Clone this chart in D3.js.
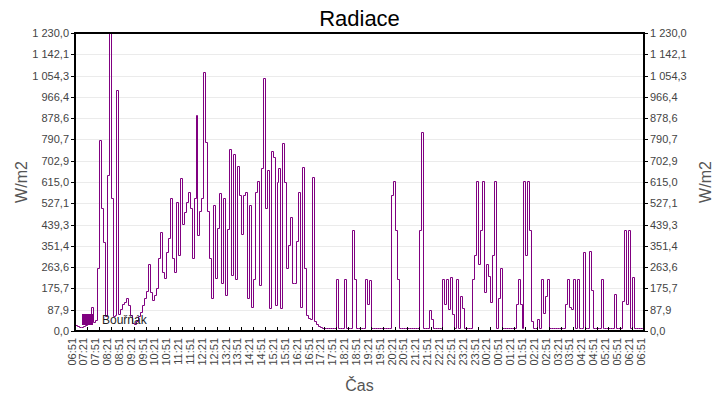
<!DOCTYPE html>
<html>
<head>
<meta charset="utf-8">
<script src="https://cdn.jsdelivr.net/npm/d3@7"></script>
<style>
  body { margin: 0; background: #fff; }
  text { font-family: "Liberation Sans", Arial, sans-serif; }
</style>
</head>
<body>
<div id="chart"></div>
<script>
// one sample every 5 minutes, starting 06:51
const stepMinutes = 5;
const seriesName = "Bouřňák";

// W/m2, one row = one hour (12 samples)
const radiace = [
  25, 20, 18, 18, 22, 25, 28, 30, 100, 38, 45, 261,          // 06:51
  788, 506, 369, 60, 644, 1230, 548, 60, 65, 995, 70, 90,    // 07:51
  110, 121, 138, 107, 66, 35, 28, 40, 60, 80, 107, 135,      // 08:51
  165, 275, 160, 128, 150, 176, 300, 410, 245, 217, 327, 383,// 09:51
  548, 300, 245, 534, 314, 630, 440, 490, 534, 575, 506, 300,// 10:51
  548, 891, 397, 495, 548, 1071, 782, 495, 300, 135, 520, 217,// 11:51
  424, 568, 200, 548, 150, 420, 751, 230, 729, 215, 682, 561,// 12:51
  400, 561, 575, 135, 520, 100, 215, 575, 619, 190, 671, 1043,// 13:51
  506, 665, 94, 743, 718, 107, 616, 671, 94, 775, 616, 259,  // 14:51
  355, 472, 197, 197, 370, 575, 100, 678, 259, 66, 55, 48,   // 15:51
  637, 40, 28, 20, 16, 14, 14, 14, 14, 14, 14, 14,           // 16:51
  215, 12, 12, 12, 215, 12, 12, 12, 417, 215, 12, 12,        // 17:51
  12, 12, 12, 215, 110, 211, 12, 12, 12, 12, 12, 12,         // 18:51
  12, 12, 12, 12, 561, 619, 417, 215, 12, 12, 12, 12,        // 19:51
  12, 12, 12, 12, 12, 12, 417, 820, 12, 12, 12, 87,          // 20:51
  50, 12, 12, 12, 12, 12, 215, 110, 215, 90, 223, 69,        // 21:51
  12, 215, 12, 144, 94, 12, 12, 12, 12, 215, 314, 619,       // 22:51
  277, 417, 619, 162, 277, 228, 121, 314, 619, 12, 135, 259, // 23:51
  12, 12, 12, 12, 12, 12, 12, 110, 215, 110, 12, 619,        // 00:51
  314, 619, 417, 40, 12, 12, 50, 12, 215, 75, 144, 215,      // 01:51
  12, 12, 12, 12, 12, 12, 12, 12, 110, 215, 100, 90,         // 02:51
  215, 12, 215, 12, 12, 325, 12, 12, 330, 169, 12, 12,       // 03:51
  12, 12, 215, 12, 12, 12, 12, 12, 12, 151, 12, 12,          // 04:51
  12, 124, 417, 110, 417, 12, 224, 12, 12, 12, 12, 12,       // 05:51
  18                                                          // 06:51
];

const xTickLabels = [
  "06:51", "07:21", "07:51", "08:21", "08:51", "09:21", "09:51", "10:21",
  "10:51", "11:21", "11:51", "12:21", "12:51", "13:21", "13:51", "14:21",
  "14:51", "15:21", "15:51", "16:21", "16:51", "17:21", "17:51", "18:21",
  "18:51", "19:21", "19:51", "20:21", "20:51", "21:21", "21:51", "22:21",
  "22:51", "23:21", "23:51", "00:21", "00:51", "01:21", "01:51", "02:21",
  "02:51", "03:21", "03:51", "04:21", "04:51", "05:21", "05:51", "06:21",
  "06:51"
];
const yTicks = [0, 87.9, 175.7, 263.6, 351.4, 439.3, 527.1, 615.0, 702.9,
  790.7, 878.6, 966.4, 1054.3, 1142.1, 1230.0];

const W = 720, H = 400;
const margin = { top: 33, right: 76, bottom: 69, left: 75 };
const width = W - margin.left - margin.right,
      height = H - margin.top - margin.bottom;

const cz = d3.formatLocale({ decimal: ",", thousands: " ", grouping: [3], currency: ["", ""] });
const fmt = cz.format(",.1f");

const svg = d3.select("#chart").append("svg")
  .attr("width", W).attr("height", H);

const g = svg.append("g")
  .attr("transform", "translate(" + margin.left + "," + margin.top + ")");

const x = d3.scaleLinear()
  .domain([0, (xTickLabels.length - 1) * 30])
  .range([0, width]);
const y = d3.scaleLinear()
  .domain([0, 1230])
  .range([height, 0]);

// snap to pixel centres so the 1px line stays sharp
const px = v => Math.round(v) + 0.5;

// horizontal grid
g.selectAll(".grid")
  .data(yTicks.slice(1, -1))
  .enter().append("line")
  .attr("x1", 0).attr("x2", width)
  .attr("y1", d => px(y(d))).attr("y2", d => px(y(d)))
  .attr("stroke", "#ebebeb").attr("stroke-width", 1);

// clip
g.append("clipPath").attr("id", "clip")
  .append("rect").attr("width", width).attr("height", height);

const line = d3.line()
  .x((d, i) => px(x(i * stepMinutes)))
  .y(d => px(y(d)))
  .curve(d3.curveStepAfter);

g.append("path")
  .datum(radiace)
  .attr("clip-path", "url(#clip)")
  .attr("d", line)
  .attr("fill", "none")
  .attr("stroke", "#800080")
  .attr("stroke-width", 1);

// legend
g.append("rect")
  .attr("x", 7).attr("y", height - 17)
  .attr("width", 11).attr("height", 11)
  .attr("fill", "#800080");
g.append("text")
  .attr("x", 27).attr("y", height - 7)
  .attr("font-size", 12)
  .attr("fill", "#222")
  .text(seriesName);

// axes
const yLeft = g.append("g")
  .call(d3.axisLeft(y).tickValues(yTicks).tickFormat(fmt).tickSize(4).tickPadding(2));
const yRight = g.append("g")
  .attr("transform", "translate(" + width + ",0)")
  .call(d3.axisRight(y).tickValues(yTicks).tickFormat(fmt).tickSize(4).tickPadding(2));

const xAxis = g.append("g")
  .attr("transform", "translate(0," + height + ")")
  .call(d3.axisBottom(x)
    .tickValues(d3.range(xTickLabels.length).map(i => i * 30))
    .tickFormat((d, i) => xTickLabels[i])
    .tickSizeInner(-4).tickSizeOuter(0));

xAxis.selectAll("text")
  .attr("transform", "rotate(-90)")
  .attr("text-anchor", "end")
  .attr("x", -7).attr("y", 0).attr("dy", "0");

[yLeft, yRight, xAxis].forEach(a => {
  a.selectAll("text").attr("font-size", 11).attr("fill", "#444")
    .attr("font-family", "Liberation Sans, Arial, sans-serif");
  a.selectAll("line").attr("stroke", "#000").attr("shape-rendering", "crispEdges");
  a.select(".domain").remove();
});

// frame
g.append("rect")
  .attr("x", 0).attr("y", 0)
  .attr("width", width).attr("height", height)
  .attr("fill", "none").attr("stroke", "#000").attr("stroke-width", 1.5)
  .attr("shape-rendering", "crispEdges");

// titles
svg.append("text")
  .attr("x", margin.left + width / 2).attr("y", 26)
  .attr("text-anchor", "middle")
  .attr("font-size", 22).attr("fill", "#000")
  .text("Radiace");

svg.append("text")
  .attr("x", margin.left + width / 2).attr("y", 391)
  .attr("text-anchor", "middle")
  .attr("font-size", 16).attr("fill", "#555")
  .text("Čas");

svg.append("text")
  .attr("transform", "translate(27," + (margin.top + height / 2) + ") rotate(-90)")
  .attr("text-anchor", "middle")
  .attr("font-size", 16).attr("fill", "#555")
  .text("W/m2");

svg.append("text")
  .attr("transform", "translate(711," + (margin.top + height / 2) + ") rotate(-90)")
  .attr("text-anchor", "middle")
  .attr("font-size", 16).attr("fill", "#555")
  .text("W/m2");
</script>
</body>
</html>
